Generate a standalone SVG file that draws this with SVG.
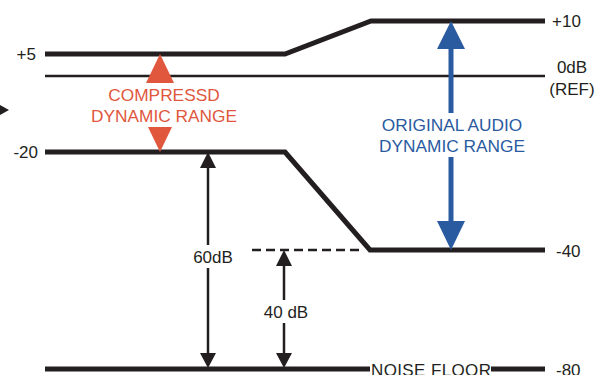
<svg xmlns="http://www.w3.org/2000/svg" width="602" height="375" viewBox="0 0 602 375">
<style>
text{font-family:"Liberation Sans",Arial,sans-serif;font-size:17px;fill:#231f20}
.thick{fill:none;stroke:#231f20;stroke-width:5;stroke-linejoin:miter}
.thin{fill:none;stroke:#231f20;stroke-width:2.5}
.red{fill:#e0573d}
.redt{fill:#e0573d;font-size:17.3px}
.bluet{fill:#2a5aa0;font-size:17.3px}
.blue{fill:#2a5aa0}
.blk{fill:#231f20}
</style>
<rect width="602" height="375" fill="#fff"/>
<g id="connectors">
<polyline class="thick" points="45,54 285,54 371,21 545,21"/>
<line class="thin" x1="45" y1="76" x2="545" y2="76"/>
<polyline class="thick" points="45,152 285,152 370,250 545,250"/>
<line x1="252" y1="250" x2="362" y2="250" stroke="#231f20" stroke-width="2.5" stroke-dasharray="9,5"/>
<line class="thick" x1="45" y1="369" x2="370" y2="369"/>
<line class="thick" x1="491" y1="369" x2="545" y2="369"/>
<polygon class="blk" points="0,105 9,110 0,115"/>
</g>
<g id="compressed">
<polygon class="red" points="160,54 174,83 146,83"/>
<polygon class="red" points="148,127 172,127 160,152"/>
<text class="redt" x="164" y="101" text-anchor="middle">COMPRESSD</text>
<text class="redt" x="164" y="122" text-anchor="middle">DYNAMIC RANGE</text>
</g>
<g id="original">
<polygon class="blue" points="451,21 465,49 437,49"/>
<rect class="blue" x="448.5" y="48" width="5" height="65"/>
<rect class="blue" x="448.5" y="157" width="5" height="65"/>
<polygon class="blue" points="437,221 465,221 451,250"/>
<text class="bluet" x="452" y="131" text-anchor="middle">ORIGINAL AUDIO</text>
<text class="bluet" x="452" y="152" text-anchor="middle">DYNAMIC RANGE</text>
</g>
<g id="range60">
<polygon class="blk" points="208,152 216,168 200,168"/>
<line class="thin" x1="208" y1="166" x2="208" y2="245"/>
<line class="thin" x1="208" y1="268" x2="208" y2="355"/>
<polygon class="blk" points="200,353 216,353 208,368"/>
<text x="213" y="263" text-anchor="middle">60dB</text>
</g>
<g id="range40">
<polygon class="blk" points="284,250 292,266 276,266"/>
<line class="thin" x1="284" y1="264" x2="284" y2="300"/>
<line class="thin" x1="284" y1="323" x2="284" y2="355"/>
<polygon class="blk" points="276,353 292,353 284,368"/>
<text x="286" y="318" text-anchor="middle">40 dB</text>
</g>
<g id="labels">
<text x="36" y="60" text-anchor="end">+5</text>
<text x="38" y="158" text-anchor="end">-20</text>
<text x="552" y="27">+10</text>
<text x="572" y="73" text-anchor="middle">0dB</text>
<text x="572" y="95" text-anchor="middle">(REF)</text>
<text x="556" y="257">-40</text>
<text x="556" y="376">-80</text>
<text x="431" y="376" text-anchor="middle" textLength="120">NOISE FLOOR</text>
</g>
</svg>
